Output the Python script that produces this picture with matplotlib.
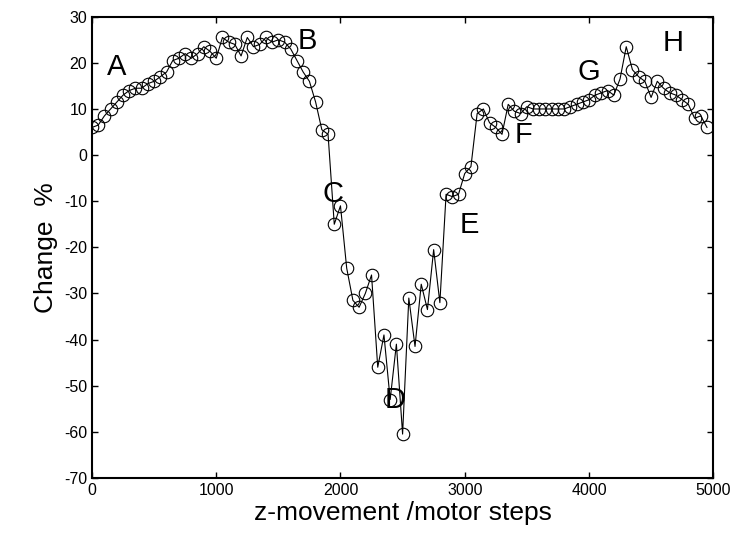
import matplotlib
matplotlib.use('Agg')
from matplotlib import pyplot as plt

plt.rcParams['font.family'] = ['Liberation Sans', 'DejaVu Sans']
plt.rcParams['axes.unicode_minus'] = False

steps = [0, 50, 100, 150, 200, 250, 300, 350, 400, 450,
         500, 550, 600, 650, 700, 750, 800, 850, 900, 950,
         1000, 1050, 1100, 1150, 1200, 1250, 1300, 1350, 1400, 1450,
         1500, 1550, 1600, 1650, 1700, 1750, 1800, 1850, 1900, 1950,
         2000, 2050, 2100, 2150, 2200, 2250, 2300, 2350, 2400, 2450,
         2500, 2550, 2600, 2650, 2700, 2750, 2800, 2850, 2900, 2950,
         3000, 3050, 3100, 3150, 3200, 3250, 3300, 3350, 3400, 3450,
         3500, 3550, 3600, 3650, 3700, 3750, 3800, 3850, 3900, 3950,
         4000, 4050, 4100, 4150, 4200, 4250, 4300, 4350, 4400, 4450,
         4500, 4550, 4600, 4650, 4700, 4750, 4800, 4850, 4900, 4950]

change = [6.0, 6.5, 8.5, 10.0, 11.5, 13.0, 14.0, 14.5, 14.5, 15.5,
          16.0, 17.0, 18.0, 20.5, 21.0, 22.0, 21.0, 22.0, 23.5, 22.5,
          21.0, 25.5, 24.5, 24.0, 21.5, 25.5, 23.5, 24.0, 25.5, 24.5,
          25.0, 24.5, 23.0, 20.5, 18.0, 16.0, 11.5, 5.5, 4.5, -15.0,
          -11.0, -24.5, -31.5, -33.0, -30.0, -26.0, -46.0, -39.0, -53.0, -41.0,
          -60.5, -31.0, -41.5, -28.0, -33.5, -20.5, -32.0, -8.5, -9.0, -8.5,
          -4.0, -2.5, 9.0, 10.0, 7.0, 6.0, 4.5, 11.0, 9.5, 9.0,
          10.5, 10.0, 10.0, 10.0, 10.0, 10.0, 10.0, 10.5, 11.0, 11.5,
          12.0, 13.0, 13.5, 14.0, 13.0, 16.5, 23.5, 18.5, 17.0, 16.0,
          12.5, 16.0, 14.5, 13.5, 13.0, 12.0, 11.0, 8.0, 8.5, 6.0]

# region labels and where they sit (data coords)
region_names = ['A', 'B', 'C', 'D', 'E', 'F', 'G', 'H']
region_x = [200, 1730, 1940, 2440, 3035, 3470, 4000, 4680]
region_y = [19.0, 24.7, -8.5, -53.0, -15.2, 4.3, 18.0, 24.3]

fig = plt.figure(figsize=(7.3, 5.4), dpi=100)
ax = fig.add_axes([0.126, 0.115, 0.851, 0.854])

ax.plot(steps, change, '-o', color='k', lw=0.8, ms=9,
        mfc='none', mec='k', mew=0.8)

for name, x, y in zip(region_names, region_x, region_y):
    ax.text(x, y, name, fontsize=21, ha='center', va='center')

ax.set_xlim(0, 5000)
ax.set_ylim(-70, 30)
ax.set_xticks(range(0, 5001, 1000))
ax.set_yticks(range(-70, 31, 10))
ax.tick_params(direction='in', top=True, right=True, length=4,
               width=1, labelsize=11.5)
for sp in ax.spines.values():
    sp.set_linewidth(1.5)

ax.set_xlabel('z-movement /motor steps', fontsize=19, labelpad=2)
ax.set_ylabel('Change  %', fontsize=19, labelpad=4)

plt.savefig('out.png', dpi=100)
